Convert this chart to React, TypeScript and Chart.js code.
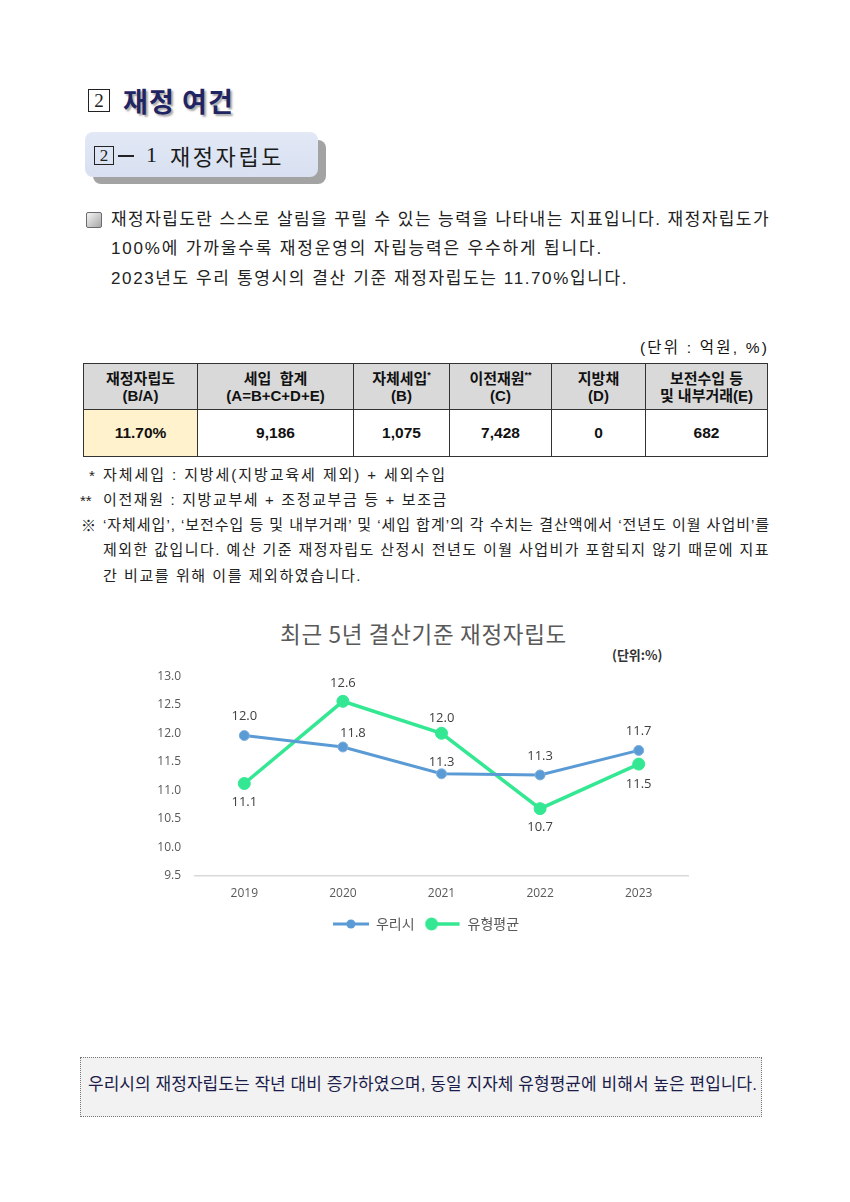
import React, { useEffect, useLayoutEffect, useRef } from "react";
import { Chart, registerables } from "chart.js";

Chart.register(...registerables);

// ---------- data ----------
const years = ["2019", "2020", "2021", "2022", "2023"];
const ourCity = [11.96, 11.76, 11.29, 11.27, 11.7];
const typeAverage = [11.12, 12.56, 12.0, 10.68, 11.46];
const seriesNames = ["우리시", "유형평균"];
const yMin = 9.5;
const yMax = 13.0;
const yStep = 0.5;

const headTop = ["재정자립도", "세입  합계", "자체세입", "이전재원", "지방채", "보전수입 등"];
const headSup = ["", "", "*", "**", "", ""];
const headBottom = ["(B/A)", "(A=B+C+D+E)", "(B)", "(C)", "(D)", "및 내부거래(E)"];
const tableValues = ["11.70%", "9,186", "1,075", "7,428", "0", "682"];

// ---------- styles ----------
const BLUE = "#5b9bd5";
const GREEN = "#34e893";
const BODY_FONT = '"Liberation Sans", "Noto Sans CJK KR", sans-serif';
const CJK_FONT = '"Noto Sans CJK KR", sans-serif';
const colWidths = [114, 156, 96, 102, 94, 122];
const blueLabelOffsets = [[0, -19], [10, -14], [0, -12], [0, -19], [0, -19]];
const greenLabelOffsets = [[0, 19], [0, -18], [0, -15], [0, 19], [0, 20]];
const LEGEND_SHIFT = 7;

type TxtProps = {
  x: number; y: number; w?: number; size: number;
  bold?: boolean; color?: string; family?: string; shadow?: string; children: React.ReactNode;
};

// Text line; when w is given the letter spacing is adjusted so the line spans w pixels.
function Txt({ x, y, w, size, bold = false, color = "#222", family = BODY_FONT, shadow, children }: TxtProps) {
  const ref = useRef<HTMLSpanElement>(null);
  useLayoutEffect(() => {
    const el = ref.current;
    if (!el || !w) return;
    const fit = () => {
      el.style.letterSpacing = "0px";
      const nat = el.getBoundingClientRect().width;
      const n = Array.from(el.textContent || "").length;
      if (n > 0) el.style.letterSpacing = `${(w - nat) / n}px`;
    };
    fit();
    if ((document as any).fonts && (document as any).fonts.ready) (document as any).fonts.ready.then(fit);
  }, [w]);
  return (
    <span
      ref={ref}
      style={{
        position: "absolute",
        display: "inline-block",
        left: x,
        top: y - size * 0.62,
        fontSize: size,
        lineHeight: `${size * 1.2}px`,
        whiteSpace: "pre",
        fontWeight: bold ? 700 : 400,
        color,
        fontFamily: family,
        textShadow: shadow,
      }}
    >
      {children}
    </span>
  );
}

const labelPlugin = {
  id: "pointValueLabels",
  afterDatasetsDraw(chart: any) {
    const ctx = chart.ctx;
    chart.data.datasets.forEach((ds: any, i: number) => {
      const meta = chart.getDatasetMeta(i);
      const offs = ds.valueLabelOffsets || [];
      meta.data.forEach((pt: any, j: number) => {
        const v = ds.data[j] as number;
        const o = offs[j] || [0, -19];
        ctx.save();
        ctx.font = '13px "Open Sans", "Noto Sans CJK KR", sans-serif';
        ctx.fillStyle = "#404040";
        ctx.textAlign = "center";
        ctx.textBaseline = "middle";
        ctx.fillText(v.toFixed(1), pt.x + o[0], pt.y + o[1]);
        ctx.restore();
      });
    });
  },
};

const legendShiftPlugin = {
  id: "legendShift",
  afterLayout(chart: any) {
    const lg = chart.legend;
    if (lg) {
      lg.left += LEGEND_SHIFT;
      lg.right += LEGEND_SHIFT;
    }
  },
};

function LineChart() {
  const ref = useRef<HTMLCanvasElement>(null);
  useEffect(() => {
    if (!ref.current) return;
    const mk = (draw: (c: CanvasRenderingContext2D) => void) => {
      const c = document.createElement("canvas");
      c.width = 36;
      c.height = 14;
      const cx = c.getContext("2d");
      if (cx) draw(cx);
      return c;
    };
    const blueIcon = mk((c) => {
      c.strokeStyle = BLUE;
      c.lineWidth = 3;
      c.beginPath();
      c.moveTo(0, 7);
      c.lineTo(36, 7);
      c.stroke();
      c.fillStyle = BLUE;
      c.beginPath();
      c.arc(18, 7, 4.5, 0, Math.PI * 2);
      c.fill();
    });
    const greenIcon = mk((c) => {
      c.strokeStyle = GREEN;
      c.lineWidth = 3.5;
      c.beginPath();
      c.moveTo(6, 7);
      c.lineTo(35, 7);
      c.stroke();
      c.fillStyle = GREEN;
      c.beginPath();
      c.arc(7, 7, 6.5, 0, Math.PI * 2);
      c.fill();
    });

    const chart = new Chart(ref.current, {
      type: "line",
      data: {
        labels: years,
        datasets: [
          {
            label: seriesNames[0],
            data: ourCity,
            borderColor: BLUE,
            backgroundColor: BLUE,
            borderWidth: 3,
            pointRadius: 5,
            pointBackgroundColor: BLUE,
            pointBorderColor: "#7fb0de",
            pointBorderWidth: 1,
            tension: 0,
            valueLabelOffsets: blueLabelOffsets,
          } as any,
          {
            label: seriesNames[1],
            data: typeAverage,
            borderColor: GREEN,
            backgroundColor: GREEN,
            borderWidth: 3.5,
            pointRadius: 6,
            pointBackgroundColor: GREEN,
            pointBorderColor: GREEN,
            pointBorderWidth: 1,
            tension: 0,
            valueLabelOffsets: greenLabelOffsets,
          } as any,
        ],
      },
      options: {
        animation: false,
        responsive: false,
        layout: { padding: { top: 20, right: 22, bottom: 4, left: 0 } },
        scales: {
          x: {
            offset: true,
            grid: { display: false, drawTicks: false },
            border: { color: "#d9d9d9", width: 1.5 },
            ticks: { font: { family: "Open Sans", size: 12 }, color: "#595959", padding: 10 },
            afterFit: (s: any) => { s.height = 31; },
          },
          y: {
            min: yMin,
            max: yMax,
            ticks: {
              stepSize: yStep,
              callback: (v: any) => Number(v).toFixed(1),
              font: { family: "Open Sans", size: 12 },
              color: "#595959",
              padding: 14,
            },
            grid: { display: false, drawTicks: false },
            border: { display: false },
            afterFit: (s: any) => { s.width = 45; },
          },
        },
        plugins: {
          legend: {
            position: "bottom",
            labels: {
              usePointStyle: true,
              pointStyleWidth: 36,
              boxHeight: 14,
              padding: 10,
              color: "#595959",
              font: { family: "Noto Sans CJK KR", size: 14 },
              generateLabels: (c: any) =>
                c.data.datasets.map((ds: any, i: number) => ({
                  text: ds.label,
                  pointStyle: i === 0 ? blueIcon : greenIcon,
                  fillStyle: ds.borderColor,
                  strokeStyle: ds.borderColor,
                  lineWidth: 0,
                  hidden: false,
                  datasetIndex: i,
                  fontColor: "#595959",
                })),
            },
          },
          tooltip: { enabled: false },
          title: { display: false },
        },
      } as any,
      plugins: [labelPlugin, legendShiftPlugin],
    });
    return () => chart.destroy();
  }, []);
  return (
    <canvas
      ref={ref}
      width={560}
      height={290}
      style={{ position: "absolute", left: 150, top: 655, width: 560, height: 290 }}
    />
  );
}

function BoxedTwo({ x, y, w, h, size }: { x: number; y: number; w: number; h: number; size: number }) {
  return (
    <div
      style={{
        position: "absolute",
        left: x,
        top: y,
        width: w,
        height: h,
        boxSizing: "border-box",
        border: "1.3px solid #222",
        fontFamily: '"Liberation Serif", serif',
        fontSize: size,
        lineHeight: `${h - 2}px`,
        textAlign: "center",
        color: "#222",
      }}
    >
      2
    </div>
  );
}

export default function App() {
  const cellBorder = "1px solid #333";
  return (
    <div
      style={{
        position: "absolute",
        left: 0,
        top: 0,
        width: 850,
        height: 1202,
        background: "#fff",
        overflow: "hidden",
        fontFamily: BODY_FONT,
      }}
    >
      {/* Heading */}
      <BoxedTwo x={88} y={89} w={22} h={23} size={19} />
      <Txt x={123} y={102} w={111} size={27} bold family={CJK_FONT} color="#1f2563" shadow="2px 2px 2px rgba(0,0,0,0.35)">
        재정 여건
      </Txt>

      {/* Sub heading box */}
      <div style={{ position: "absolute", left: 93, top: 140, width: 233, height: 44, background: "#a3a3a3", borderRadius: 8 }} />
      <div style={{ position: "absolute", left: 85, top: 132, width: 233, height: 45, background: "linear-gradient(#e2e8f5, #d8e0f1)", borderRadius: 8 }} />
      <BoxedTwo x={94} y={146} w={20} h={19} size={17} />
      <div style={{ position: "absolute", left: 118, top: 155, width: 16, height: 1.5, background: "#222" }} />
      <Txt x={146} y={156} size={22} family='"Liberation Serif", serif' color="#1a1a1a">1</Txt>
      <Txt x={170} y={156} w={114} size={22} family={CJK_FONT} color="#1a1a1a">재정자립도</Txt>

      {/* Paragraph */}
      <div
        style={{
          position: "absolute",
          left: 86,
          top: 212,
          width: 16,
          height: 16,
          boxSizing: "border-box",
          border: "1px solid #6b6b6b",
          borderRadius: 2,
          background: "linear-gradient(135deg, #f4f4f4, #a8a8a8)",
        }}
      />
      <Txt x={111} y={221} w={659} size={17}>
        재정자립도란 스스로 살림을 꾸릴 수 있는 능력을 나타내는 지표입니다. 재정자립도가
      </Txt>
      <Txt x={111} y={250} w={492} size={17}>
        100%에 가까울수록 재정운영의 자립능력은 우수하게 됩니다.
      </Txt>
      <Txt x={111} y={280} w={517} size={17}>
        2023년도 우리 통영시의 결산 기준 재정자립도는 11.70%입니다.
      </Txt>

      {/* Unit */}
      <Txt x={640} y={349} w={129} size={15.5} color="#111">
        (단위 : 억원, %)
      </Txt>

      {/* Table */}
      <table
        style={{
          position: "absolute",
          left: 83,
          top: 363,
          width: 684,
          borderCollapse: "collapse",
          tableLayout: "fixed",
          fontFamily: BODY_FONT,
          fontWeight: 700,
          fontSize: 15,
          color: "#111",
        }}
      >
        <colgroup>
          {colWidths.map((w, i) => (
            <col key={i} style={{ width: w }} />
          ))}
        </colgroup>
        <tbody>
          <tr style={{ height: 46 }}>
            {headTop.map((t, i) => (
              <td
                key={i}
                style={{
                  border: cellBorder,
                  background: "#d9d9d9",
                  textAlign: "center",
                  verticalAlign: "middle",
                  padding: 0,
                  lineHeight: "17px",
                  whiteSpace: "pre",
                }}
              >
                <div>
                  {t}
                  {headSup[i] ? <sup style={{ fontSize: 9, lineHeight: 0 }}>{headSup[i]}</sup> : null}
                </div>
                <div>{headBottom[i]}</div>
              </td>
            ))}
          </tr>
          <tr style={{ height: 47 }}>
            {tableValues.map((v, i) => (
              <td
                key={i}
                style={{
                  border: cellBorder,
                  background: i === 0 ? "#fff2cc" : "#fff",
                  textAlign: "center",
                  verticalAlign: "middle",
                  padding: 0,
                  fontSize: 15.5,
                }}
              >
                {v}
              </td>
            ))}
          </tr>
        </tbody>
      </table>

      {/* Notes */}
      <Txt x={89} y={476} size={15}>*</Txt>
      <Txt x={103} y={475} w={344} size={15}>
        자체세입 : 지방세(지방교육세 제외) + 세외수입
      </Txt>
      <Txt x={80} y={501} size={15}>**</Txt>
      <Txt x={103} y={500} w={345} size={15}>
        이전재원 : 지방교부세 + 조정교부금 등 + 보조금
      </Txt>
      <Txt x={81} y={525} size={15} family={CJK_FONT}>※</Txt>
      <Txt x={103} y={525} w={667} size={15}>
        ‘자체세입’, ‘보전수입 등 및 내부거래’ 및 ‘세입 합계’의 각 수치는 결산액에서 ‘전년도 이월 사업비’를
      </Txt>
      <Txt x={103} y={550} w={667} size={15}>
        제외한 값입니다. 예산 기준 재정자립도 산정시 전년도 이월 사업비가 포함되지 않기 때문에 지표
      </Txt>
      <Txt x={103} y={576} w={259} size={15}>
        간 비교를 위해 이를 제외하였습니다.
      </Txt>

      {/* Chart title */}
      <Txt x={280} y={634} w={287} size={22.5} family={CJK_FONT} color="#595959">
        최근 5년 결산기준 재정자립도
      </Txt>
      <Txt x={612} y={655} size={13} bold family={CJK_FONT} color="#333">
        (단위:%)
      </Txt>

      <LineChart />

      {/* Summary box */}
      <div
        style={{
          position: "absolute",
          left: 80,
          top: 1057,
          width: 682,
          height: 60,
          boxSizing: "border-box",
          background: "#f2f2f2",
          border: "1px dotted #777",
        }}
      />
      <Txt x={88} y={1086} w={669} size={17} color="#1c1c4a">
        우리시의 재정자립도는 작년 대비 증가하였으며, 동일 지자체 유형평균에 비해서 높은 편입니다.
      </Txt>
    </div>
  );
}
